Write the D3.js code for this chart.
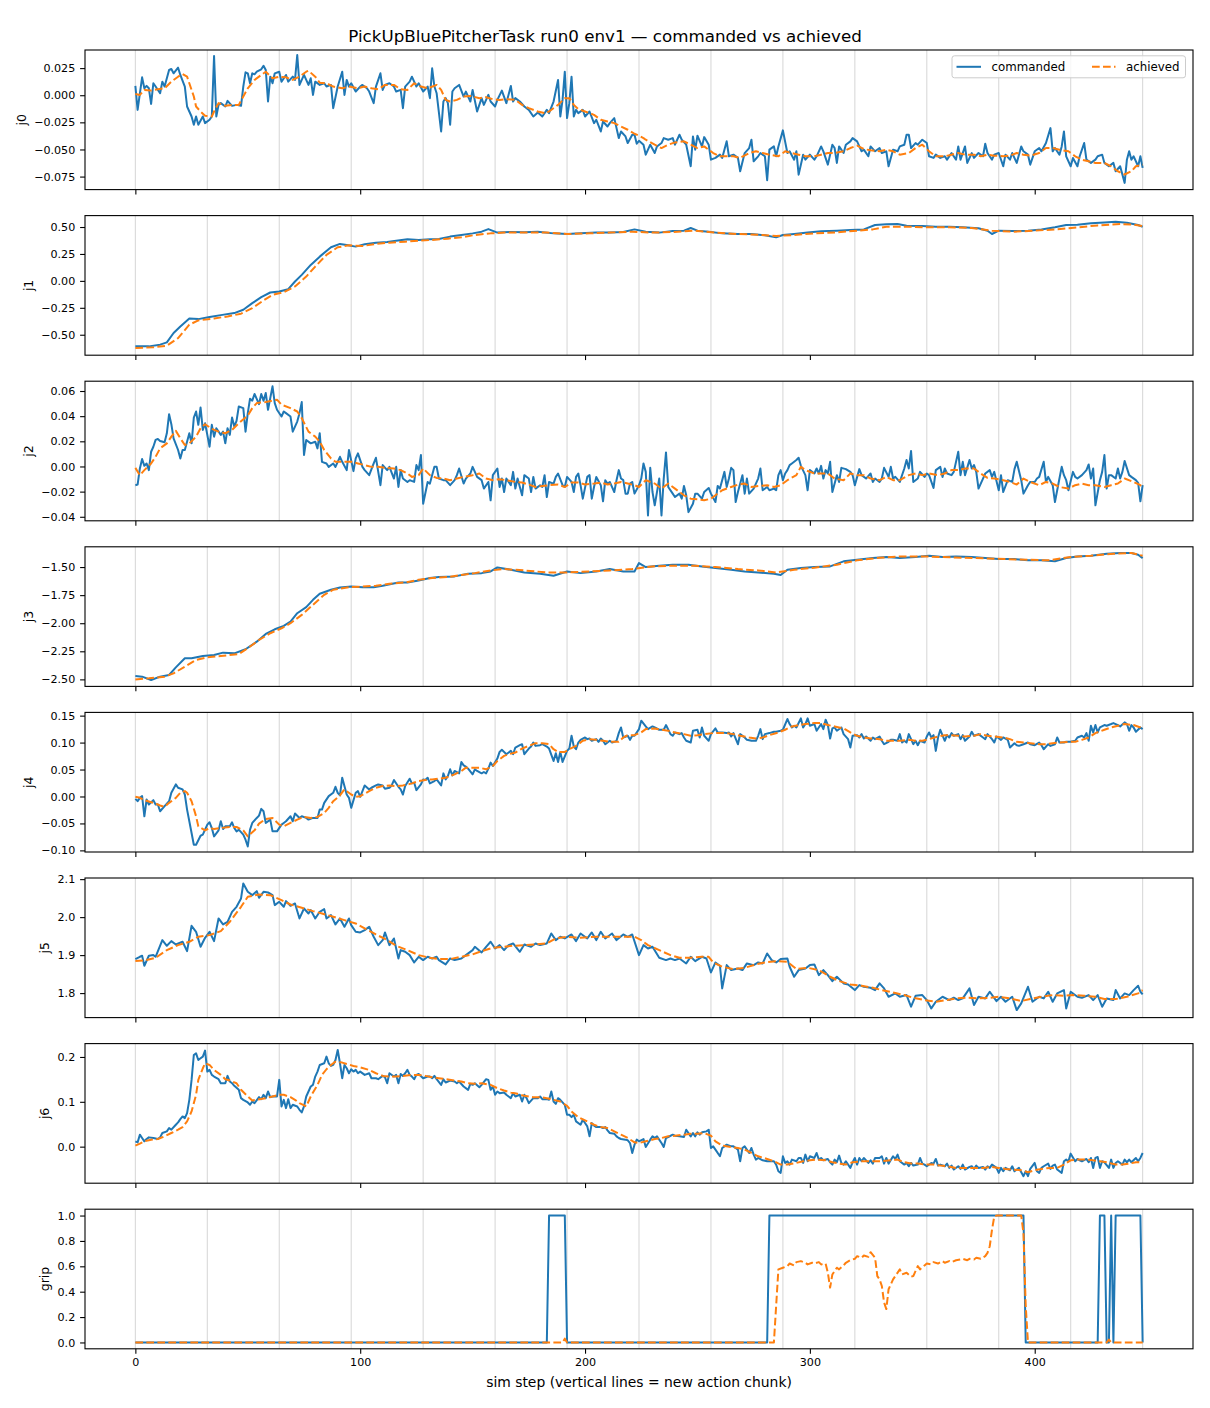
<!DOCTYPE html>
<html><head><meta charset="utf-8">
<script src="https://cdn.jsdelivr.net/npm/d3@7"></script>
<style>body{margin:0;background:#fff}svg{display:block}text{font-family:"DejaVu Sans",sans-serif}</style>
</head><body><svg id="c" width="1210" height="1408"></svg>
<script>
// ---------------- DATA ----------------
const chunkSteps = [0,32,64,96,128,160,192,224,256,288,320,352,384,416,448];
const xTicks = [0,100,200,300,400];
const seriesNames = ["commanded","achieved"];

const j0Cmd = [[0,0.0086],[1,-0.0135],[3,0.0165],[4,0.0064],[5,0.0086],[6,0.0064],[7,-0.008],[8,0.011],[9,0.008],[11,0.0018],[12,0.0125],[13,0.008],[15,0.0233],[16,0.0242],[17,0.0202],[19,0.0254],[20,0.0187],[22,0.008],[23,-0.0104],[25,-0.0196],[26,-0.0272],[27,-0.0196],[28,-0.0272],[30,-0.0196],[31,-0.0257],[33,-0.0226],[34,-0.0196],[35,0.0361],[36,-0.0196],[37,-0.0089],[38,-0.0073],[40,-0.0104],[41,-0.0052],[43,-0.0098],[45,-0.0089],[47,-0.0098],[48,0.008],[49,0.0211],[50,0.0202],[51,0.011],[52,0.0202],[53,0.0193],[54,0.0217],[56,0.0239],[57,0.0272],[58,0.0233],[59,-0.0058],[60,0.0171],[61,0.011],[62,0.0202],[64,0.0217],[65,0.0125],[67,0.0187],[68,0.0125],[70,0.0171],[71,0.0141],[72,0.037],[73,0.0095],[75,0.0187],[77,0.0095],[78,0.0156],[79,0.0003],[80,0.0125],[82,0.0095],[84,0.011],[85,0.008],[87,0.0095],[88,-0.0119],[90,0.008],[92,0.0217],[93,0.0003],[94,0.0141],[95,0.008],[96,0.011],[98,0.0034],[100,0.008],[101,0.0095],[103,0.0064],[104,0.0034],[106,-0.0073],[107,0.008],[109,0.0202],[110,0.0049],[111,0.0095],[113,0.011],[115,0.008],[116,0.0034],[118,0.0049],[119,-0.0119],[120,0.008],[122,0.0125],[123,0.0171],[125,0.008],[126,0.011],[128,0.0034],[130,0.008],[131,-0.0027],[132,0.0248],[133,0.008],[134,0.0018],[136,-0.0334],[137,-0.0058],[138,-0.0027],[139,-0.0073],[140,-0.0272],[141,0.0034],[142,0.0064],[144,0.0095],[146,-0.0012],[147,0.0034],[149,-0.0058],[150,0.0049],[152,-0.015],[154,-0.0027],[155,-0.0089],[157,0.0003],[158,-0.0058],[160,-0.0104],[161,-0.0043],[163,0.0043],[165,-0.0073],[167,0.0086],[168,-0.0058],[169,-0.0027],[171,-0.0058],[173,-0.0104],[175,-0.0135],[177,-0.0196],[179,-0.0159],[181,-0.0196],[183,-0.0135],[184,-0.0165],[186,-0.0058],[188,0.0141],[189,-0.0196],[190,-0.0043],[191,0.0217],[192,-0.0211],[193,-0.0073],[194,0.0171],[195,-0.0196],[196,-0.0135],[197,-0.0165],[199,-0.0135],[200,-0.0196],[202,-0.015],[204,-0.0257],[205,-0.0226],[207,-0.0334],[208,-0.0242],[210,-0.0288],[211,-0.0257],[213,-0.0211],[215,-0.0395],[216,-0.0334],[218,-0.038],[219,-0.0441],[221,-0.0364],[222,-0.0364],[223,-0.0447],[224,-0.042],[226,-0.0456],[227,-0.0548],[229,-0.0456],[231,-0.0533],[232,-0.0472],[234,-0.0441],[235,-0.0395],[237,-0.041],[239,-0.0395],[240,-0.0456],[242,-0.0364],[243,-0.041],[245,-0.0456],[247,-0.0655],[248,-0.038],[249,-0.0502],[250,-0.0373],[252,-0.0472],[253,-0.0386],[255,-0.0456],[256,-0.0594],[258,-0.0578],[260,-0.0548],[261,-0.0578],[263,-0.0425],[264,-0.0563],[266,-0.0548],[268,-0.0578],[269,-0.0701],[271,-0.0533],[273,-0.0487],[274,-0.041],[275,-0.0609],[277,-0.0563],[278,-0.0533],[280,-0.0563],[281,-0.0784],[282,-0.0502],[284,-0.0472],[285,-0.0563],[286,-0.0472],[288,-0.0324],[290,-0.0533],[291,-0.0517],[293,-0.0594],[294,-0.0517],[295,-0.0732],[297,-0.0548],[298,-0.0594],[300,-0.0548],[302,-0.0594],[303,-0.0563],[305,-0.0472],[306,-0.0517],[308,-0.064],[310,-0.0456],[311,-0.0487],[312,-0.0624],[313,-0.0472],[315,-0.0533],[316,-0.0456],[318,-0.0425],[319,-0.0395],[321,-0.0425],[323,-0.0517],[324,-0.0502],[326,-0.0563],[327,-0.0472],[329,-0.0517],[331,-0.0487],[332,-0.0533],[334,-0.0517],[335,-0.0655],[337,-0.0502],[339,-0.0517],[340,-0.0472],[342,-0.0456],[343,-0.0364],[344,-0.0364],[345,-0.0487],[347,-0.0441],[348,-0.0456],[350,-0.041],[352,-0.0441],[353,-0.0563],[355,-0.0578],[356,-0.0548],[358,-0.0578],[360,-0.0563],[361,-0.0594],[363,-0.0533],[365,-0.0594],[366,-0.0472],[367,-0.0594],[369,-0.0472],[370,-0.0624],[372,-0.0533],[373,-0.0578],[375,-0.0533],[377,-0.0563],[378,-0.0447],[379,-0.0533],[381,-0.0594],[382,-0.0548],[384,-0.0533],[386,-0.0655],[387,-0.0548],[389,-0.0594],[390,-0.0533],[392,-0.0624],[394,-0.0472],[395,-0.0517],[397,-0.0548],[398,-0.064],[400,-0.0517],[402,-0.0487],[403,-0.0517],[405,-0.0441],[407,-0.0303],[408,-0.0517],[409,-0.0487],[411,-0.0548],[412,-0.0472],[413,-0.0334],[414,-0.0563],[416,-0.0655],[417,-0.0578],[419,-0.0655],[420,-0.0563],[422,-0.0441],[423,-0.0594],[425,-0.0624],[427,-0.0594],[428,-0.0563],[430,-0.0548],[431,-0.0624],[433,-0.0655],[435,-0.0624],[436,-0.0701],[438,-0.0655],[440,-0.0808],[441,-0.0594],[442,-0.0517],[443,-0.0594],[444,-0.0563],[446,-0.0655],[447,-0.0563],[448,-0.067]];
const j0Ach = [[0,0.0012],[2,0.0003],[4,0.0049],[7,0.0043],[10,0.0055],[13,0.0064],[16,0.0125],[19,0.0171],[21,0.0196],[23,0.0171],[24,0.011],[26,-0.0012],[27,-0.0104],[29,-0.015],[31,-0.019],[34,-0.0196],[35,-0.015],[37,-0.0073],[40,-0.0098],[43,-0.0089],[46,-0.0089],[48,-0.0012],[50,0.0064],[53,0.0141],[56,0.0187],[58,0.0217],[61,0.0156],[64,0.0171],[67,0.0165],[70,0.0141],[73,0.0171],[76,0.0217],[77,0.0226],[80,0.0171],[82,0.0116],[85,0.011],[88,0.008],[92,0.0064],[95,0.008],[99,0.0064],[102,0.008],[105,0.0064],[108,0.0055],[111,0.0095],[115,0.0095],[118,0.0055],[121,0.0049],[124,0.011],[127,0.008],[130,0.0064],[134,0.0095],[136,0.0049],[138,-0.0043],[140,-0.0058],[143,-0.0043],[146,-0.0012],[149,-0.0006],[153,-0.0027],[156,-0.0018],[159,-0.0037],[162,-0.0043],[165,-0.0037],[169,-0.0043],[172,-0.0089],[175,-0.0119],[179,-0.015],[182,-0.0165],[184,-0.015],[188,-0.0089],[191,-0.0027],[193,-0.0027],[195,-0.0089],[197,-0.0128],[200,-0.015],[204,-0.0181],[207,-0.0226],[210,-0.0242],[213,-0.0257],[216,-0.0288],[219,-0.0318],[222,-0.0355],[224,-0.0373],[226,-0.0395],[227,-0.041],[231,-0.0456],[234,-0.0487],[237,-0.0456],[240,-0.0435],[244,-0.0425],[247,-0.0456],[250,-0.0487],[253,-0.0472],[257,-0.0533],[260,-0.0563],[263,-0.0563],[266,-0.0563],[269,-0.0578],[273,-0.0533],[276,-0.0517],[279,-0.0533],[282,-0.0548],[286,-0.0563],[289,-0.0517],[292,-0.0533],[295,-0.0548],[298,-0.0563],[302,-0.0563],[305,-0.0548],[308,-0.0533],[311,-0.0533],[315,-0.0517],[318,-0.0487],[321,-0.0465],[324,-0.0496],[327,-0.0508],[331,-0.0517],[334,-0.0502],[337,-0.0517],[340,-0.0548],[344,-0.0533],[347,-0.0487],[350,-0.0456],[353,-0.0517],[356,-0.0563],[360,-0.0563],[363,-0.0548],[366,-0.0533],[369,-0.0548],[373,-0.0548],[376,-0.0563],[379,-0.0548],[382,-0.0557],[386,-0.0563],[389,-0.0557],[392,-0.0533],[395,-0.0548],[398,-0.0557],[402,-0.0533],[405,-0.0487],[408,-0.0487],[411,-0.0502],[415,-0.0517],[418,-0.0563],[421,-0.0594],[424,-0.0609],[427,-0.0624],[431,-0.0624],[434,-0.0655],[437,-0.0701],[440,-0.0731],[443,-0.0701],[445,-0.0655],[448,-0.064]];

const j1Cmd = [[0,-0.608],[6,-0.608],[11,-0.592],[14,-0.571],[17,-0.484],[20,-0.423],[24,-0.349],[28,-0.355],[33,-0.336],[38,-0.318],[44,-0.299],[48,-0.268],[52,-0.207],[56,-0.151],[60,-0.108],[64,-0.099],[68,-0.077],[71,-0.006],[74,0.056],[78,0.148],[82,0.225],[87,0.312],[91,0.343],[94,0.333],[98,0.318],[102,0.34],[107,0.355],[112,0.361],[116,0.373],[121,0.386],[126,0.38],[131,0.386],[135,0.389],[140,0.411],[145,0.426],[150,0.441],[154,0.457],[157,0.481],[161,0.448],[167,0.454],[173,0.451],[179,0.457],[186,0.441],[192,0.435],[198,0.441],[205,0.448],[211,0.448],[217,0.454],[222,0.478],[227,0.457],[233,0.448],[239,0.463],[244,0.466],[247,0.491],[250,0.466],[255,0.457],[261,0.441],[268,0.435],[274,0.435],[280,0.423],[285,0.404],[288,0.426],[293,0.435],[299,0.448],[305,0.46],[312,0.466],[318,0.472],[324,0.478],[329,0.519],[334,0.525],[339,0.528],[343,0.512],[350,0.509],[356,0.503],[362,0.503],[368,0.497],[375,0.488],[379,0.466],[381,0.435],[384,0.466],[390,0.463],[397,0.466],[403,0.478],[409,0.497],[414,0.519],[419,0.522],[425,0.534],[431,0.543],[436,0.549],[441,0.54],[446,0.519],[448,0.503]];
const j1Ach = [[0,-0.623],[8,-0.617],[14,-0.602],[19,-0.531],[24,-0.407],[28,-0.367],[35,-0.349],[41,-0.33],[47,-0.305],[52,-0.253],[57,-0.182],[61,-0.13],[66,-0.105],[71,-0.052],[76,0.04],[80,0.133],[85,0.241],[90,0.312],[95,0.33],[101,0.324],[107,0.343],[113,0.355],[120,0.364],[126,0.373],[132,0.38],[139,0.392],[145,0.404],[151,0.426],[158,0.441],[164,0.448],[173,0.448],[183,0.448],[192,0.435],[202,0.441],[211,0.448],[221,0.457],[230,0.448],[239,0.454],[249,0.466],[258,0.448],[268,0.435],[277,0.429],[285,0.417],[293,0.426],[302,0.441],[312,0.451],[321,0.466],[328,0.478],[334,0.503],[343,0.503],[353,0.497],[362,0.497],[372,0.491],[381,0.466],[391,0.457],[400,0.466],[409,0.478],[419,0.497],[428,0.515],[438,0.528],[444,0.522],[448,0.509]];

const j2Cmd = [[0,-0.0149],[1,-0.0144],[2,-0.0016],[3,0.0059],[4,0.0005],[5,0.0024],[6,-0.0029],[7,0.0117],[8,0.0157],[9,0.0211],[10,0.0219],[11,0.0203],[13,0.0192],[14,0.0264],[15,0.0416],[16,0.0336],[17,0.0224],[19,0.0131],[20,0.0064],[21,0.0131],[22,0.0131],[24,0.0264],[25,0.0184],[26,0.0389],[27,0.0437],[28,0.0331],[29,0.0469],[30,0.0291],[31,0.0344],[32,0.0251],[33,0.0157],[34,0.0331],[35,0.0237],[36,0.0304],[38,0.0251],[39,0.0277],[40,0.0184],[41,0.0304],[42,0.0251],[43,0.0389],[44,0.0317],[45,0.0363],[46,0.0477],[48,0.0464],[49,0.0277],[50,0.0424],[51,0.0539],[52,0.0523],[53,0.0576],[55,0.0496],[56,0.0576],[57,0.0523],[58,0.0584],[59,0.0451],[61,0.0637],[62,0.0504],[63,0.0451],[65,0.0397],[66,0.0437],[67,0.0424],[69,0.0397],[70,0.0277],[72,0.0357],[73,0.0424],[74,0.0512],[75,0.0091],[76,0.0211],[78,0.0184],[80,0.0197],[81,0.0144],[82,0.0264],[83,0.0037],[85,0.0024],[86,-0.0003],[88,0.0024],[89,-0.0003],[91,0.0077],[92,0.0037],[94,-0.0029],[95,0.0131],[97,-0.0037],[98,0.0064],[99,0.0104],[101,-0.0003],[102,-0.0029],[104,-0.0069],[106,0.0024],[107,0.0069],[109,-0.0149],[110,0.0011],[112,-0.0029],[113,-0.0003],[115,-0.0096],[116,-0.0003],[117,-0.0163],[118,-0.0029],[119,-0.0096],[121,-0.0123],[122,-0.0109],[124,-0.0123],[125,0.0011],[126,-0.0029],[127,0.0091],[128,-0.0296],[130,-0.0123],[131,-0.0136],[133,-0.0003],[134,-0.0003],[135,-0.0096],[137,-0.0109],[138,-0.0109],[140,-0.0149],[142,-0.0109],[143,-0.0069],[144,-0.0016],[146,-0.0136],[147,-0.0096],[149,-0.0056],[150,-0.0003],[152,-0.0083],[154,-0.0109],[155,-0.0176],[157,-0.0123],[158,-0.0269],[159,-0.0069],[161,-0.0016],[162,-0.0163],[163,-0.0096],[164,-0.0203],[165,-0.0096],[167,-0.0149],[168,-0.0043],[169,-0.0176],[170,-0.0096],[172,-0.0229],[173,-0.0069],[175,-0.0096],[176,-0.0203],[177,-0.0083],[178,-0.0176],[180,-0.0149],[181,-0.0163],[182,-0.0069],[183,-0.0243],[184,-0.0123],[186,-0.0136],[187,-0.0083],[188,-0.0056],[190,-0.0149],[191,-0.0163],[192,-0.0083],[194,-0.0123],[195,-0.0203],[196,-0.0083],[197,-0.0056],[198,-0.0149],[199,-0.0256],[201,-0.0083],[202,-0.0069],[203,-0.0256],[204,-0.0163],[205,-0.0083],[207,-0.0149],[208,-0.0277],[209,-0.0109],[210,-0.0136],[211,-0.0123],[213,-0.0203],[214,-0.0109],[215,-0.0029],[216,-0.0096],[217,-0.0109],[218,-0.0216],[219,-0.0216],[220,-0.0136],[221,-0.0123],[222,-0.0216],[224,-0.0149],[225,-0.0096],[226,0.0024],[227,-0.0043],[228,-0.0389],[229,-0.0011],[230,-0.0203],[231,-0.0309],[233,-0.0096],[234,-0.0389],[235,-0.0096],[236,0.0112],[237,-0.0163],[239,-0.0216],[240,-0.0243],[242,-0.0216],[243,-0.0256],[244,-0.0155],[245,-0.0229],[246,-0.0363],[248,-0.0296],[249,-0.0216],[250,-0.0216],[252,-0.0256],[253,-0.0203],[255,-0.0171],[256,-0.0216],[258,-0.0283],[259,-0.0155],[260,-0.0176],[262,-0.0043],[263,-0.0163],[264,-0.0096],[265,-0.0011],[266,-0.0029],[267,-0.0283],[268,-0.0203],[270,-0.0069],[271,-0.0216],[272,-0.0096],[273,-0.0216],[275,-0.0176],[277,-0.0096],[278,-0.0016],[279,-0.0189],[281,-0.0163],[282,-0.0189],[284,-0.0176],[285,-0.0189],[286,-0.0069],[287,-0.0029],[288,-0.0109],[289,-0.0056],[290,-0.0029],[291,0.0011],[292,0.0024],[294,0.0051],[295,0.0069],[296,0.0005],[298,-0.0069],[299,-0.0189],[300,-0.0029],[302,-0.0056],[303,-0.0016],[304,-0.0056],[305,0.0005],[306,-0.0096],[307,-0.0029],[308,-0.0056],[309,0.0037],[310,-0.0203],[312,-0.0069],[313,-0.0123],[314,-0.0011],[316,-0.0021],[318,-0.0043],[319,-0.0069],[320,-0.0149],[322,-0.0021],[323,-0.0069],[325,-0.0096],[327,-0.0056],[328,-0.0123],[329,-0.0096],[331,-0.0123],[332,-0.0096],[333,-0.0011],[335,-0.0083],[336,-0.0003],[337,-0.0096],[338,-0.0083],[340,-0.0123],[342,-0.0016],[343,0.0051],[344,-0.0016],[345,0.0123],[346,-0.0123],[348,-0.0096],[349,-0.0043],[351,-0.0083],[352,-0.0056],[353,-0.0069],[355,-0.0171],[356,-0.0029],[358,-0.0003],[359,-0.0083],[360,-0.0016],[361,-0.0056],[363,-0.0069],[364,-0.0043],[366,0.0117],[367,-0.0069],[368,0.0037],[369,-0.0069],[371,0.0051],[372,-0.0016],[373,0.0011],[374,-0.0043],[375,-0.0176],[377,-0.0096],[378,-0.0056],[380,-0.0029],[381,-0.0083],[382,-0.0043],[384,-0.0189],[385,-0.0069],[386,-0.0203],[388,-0.0109],[390,-0.0123],[391,-0.0021],[392,0.0037],[394,-0.0109],[395,-0.0216],[397,-0.0149],[398,-0.0123],[400,-0.0123],[401,-0.0096],[402,-0.0083],[404,0.0037],[405,-0.0123],[406,-0.0083],[408,-0.0149],[409,-0.0283],[411,-0.0096],[412,-0.0003],[413,-0.0069],[414,-0.0109],[415,-0.0189],[417,-0.0043],[418,-0.0083],[419,-0.0096],[421,-0.0069],[423,-0.0029],[424,0.0016],[425,-0.0096],[426,-0.0016],[427,-0.0309],[429,-0.0109],[430,-0.0043],[431,0.0091],[432,-0.0176],[433,-0.0069],[434,-0.0069],[436,-0.0096],[437,-0.0016],[438,-0.0096],[439,-0.0043],[440,0.0043],[442,-0.0069],[443,-0.0083],[445,-0.0109],[446,-0.013],[447,-0.0277],[448,-0.0149]];
const j2Ach = [[0,-0.0011],[2,-0.0069],[4,-0.0029],[7,0.0024],[9,0.0077],[11,0.0144],[14,0.0184],[16,0.0237],[18,0.0283],[20,0.0224],[22,0.0171],[24,0.0184],[27,0.0237],[29,0.0304],[31,0.0336],[34,0.0299],[37,0.0277],[40,0.0264],[43,0.0291],[46,0.0344],[50,0.0405],[52,0.0464],[54,0.0504],[58,0.0512],[61,0.0523],[63,0.0531],[65,0.0491],[69,0.0464],[72,0.0437],[74,0.0384],[77,0.0277],[80,0.0237],[82,0.0197],[84,0.0131],[87,0.0064],[89,0.0037],[92,0.0037],[96,0.0037],[99,0.0024],[102,0.0011],[105,-0.0003],[108,-0.0003],[111,-0.0011],[115,-0.0016],[118,-0.0029],[121,-0.0056],[123,-0.0083],[126,-0.0069],[128,-0.0016],[131,-0.0069],[134,-0.0091],[137,-0.0096],[140,-0.0109],[143,-0.0096],[146,-0.0083],[150,-0.0069],[153,-0.0056],[156,-0.0096],[159,-0.0109],[162,-0.0101],[165,-0.0109],[169,-0.0123],[172,-0.0128],[175,-0.0144],[178,-0.0163],[181,-0.0155],[184,-0.0149],[188,-0.0144],[191,-0.0163],[194,-0.0128],[197,-0.0128],[200,-0.0144],[204,-0.0136],[207,-0.0128],[210,-0.0144],[213,-0.0136],[216,-0.0123],[219,-0.0136],[222,-0.0149],[224,-0.0163],[227,-0.0109],[231,-0.0136],[234,-0.0176],[237,-0.0136],[240,-0.0176],[244,-0.0229],[247,-0.0256],[250,-0.0261],[253,-0.0269],[256,-0.0256],[258,-0.0229],[261,-0.0189],[265,-0.0163],[268,-0.0144],[271,-0.0136],[274,-0.0163],[277,-0.0155],[281,-0.0149],[284,-0.0163],[287,-0.0149],[290,-0.0109],[294,-0.0069],[296,-0.0003],[298,-0.0029],[302,-0.0056],[305,-0.0056],[308,-0.0056],[311,-0.0096],[315,-0.0109],[318,-0.0056],[321,-0.0069],[324,-0.0069],[327,-0.0096],[331,-0.0109],[334,-0.0083],[337,-0.0109],[340,-0.0109],[344,-0.0069],[347,-0.0056],[350,-0.0069],[353,-0.0056],[357,-0.0069],[360,-0.0056],[363,-0.0029],[366,-0.0029],[369,-0.0016],[373,-0.0016],[376,-0.0056],[379,-0.0091],[382,-0.0096],[386,-0.0109],[389,-0.0123],[392,-0.0144],[395,-0.0096],[398,-0.0123],[402,-0.0149],[405,-0.0123],[408,-0.0136],[411,-0.0163],[415,-0.0176],[418,-0.0149],[421,-0.0136],[424,-0.0149],[427,-0.0149],[431,-0.0163],[434,-0.0149],[437,-0.0136],[440,-0.0096],[444,-0.0123],[447,-0.0149],[448,-0.0163]];

const j3Cmd = [[0,-2.47],[3,-2.476],[7,-2.506],[11,-2.476],[15,-2.461],[18,-2.393],[22,-2.312],[25,-2.312],[30,-2.292],[35,-2.283],[39,-2.262],[44,-2.268],[49,-2.232],[54,-2.164],[58,-2.095],[62,-2.054],[66,-2.024],[69,-1.985],[72,-1.911],[76,-1.857],[79,-1.792],[82,-1.738],[87,-1.702],[91,-1.682],[96,-1.673],[101,-1.679],[106,-1.679],[110,-1.667],[117,-1.637],[121,-1.637],[126,-1.619],[131,-1.598],[135,-1.589],[142,-1.583],[148,-1.56],[154,-1.554],[158,-1.539],[161,-1.503],[167,-1.524],[173,-1.548],[180,-1.56],[186,-1.577],[192,-1.539],[198,-1.554],[205,-1.539],[211,-1.518],[217,-1.539],[222,-1.539],[224,-1.464],[227,-1.5],[233,-1.488],[239,-1.479],[246,-1.479],[252,-1.494],[258,-1.509],[265,-1.524],[271,-1.539],[277,-1.548],[284,-1.56],[287,-1.571],[290,-1.524],[296,-1.509],[302,-1.5],[309,-1.494],[315,-1.449],[321,-1.435],[328,-1.42],[334,-1.411],[340,-1.42],[347,-1.411],[353,-1.399],[359,-1.411],[365,-1.405],[372,-1.411],[378,-1.42],[384,-1.429],[391,-1.429],[397,-1.44],[403,-1.44],[409,-1.449],[414,-1.42],[419,-1.405],[425,-1.399],[432,-1.381],[438,-1.375],[443,-1.375],[446,-1.39],[448,-1.42]];
const j3Ach = [[0,-2.5],[6,-2.491],[13,-2.476],[17,-2.446],[22,-2.387],[27,-2.327],[32,-2.304],[38,-2.292],[46,-2.274],[50,-2.223],[55,-2.149],[60,-2.089],[65,-2.045],[69,-2.0],[74,-1.926],[79,-1.836],[84,-1.747],[88,-1.702],[95,-1.679],[101,-1.673],[107,-1.667],[113,-1.649],[120,-1.637],[126,-1.613],[132,-1.598],[139,-1.589],[145,-1.571],[151,-1.554],[158,-1.53],[164,-1.518],[173,-1.53],[183,-1.548],[192,-1.548],[202,-1.539],[211,-1.53],[221,-1.518],[230,-1.494],[239,-1.488],[249,-1.488],[258,-1.5],[268,-1.518],[277,-1.53],[285,-1.548],[293,-1.524],[302,-1.506],[312,-1.479],[321,-1.44],[331,-1.417],[340,-1.405],[350,-1.405],[359,-1.411],[369,-1.417],[378,-1.423],[387,-1.429],[397,-1.435],[406,-1.44],[416,-1.411],[425,-1.399],[435,-1.381],[443,-1.375],[448,-1.399]];

const j4Cmd = [[0,-0.0044],[1,-0.0087],[2,-0.0025],[3,0.0006],[4,-0.0367],[5,-0.0056],[6,-0.0149],[8,-0.0068],[9,-0.0149],[10,-0.0149],[11,-0.0274],[13,-0.018],[15,-0.0087],[16,0.0068],[18,0.0224],[19,0.0162],[21,0.0131],[22,0.0037],[23,-0.0243],[25,-0.0678],[26,-0.0896],[27,-0.0896],[29,-0.0728],[30,-0.0709],[32,-0.0522],[33,-0.0479],[34,-0.0585],[35,-0.074],[37,-0.0628],[38,-0.046],[39,-0.0603],[40,-0.0554],[42,-0.0554],[43,-0.0479],[44,-0.0585],[45,-0.0647],[46,-0.0616],[48,-0.0709],[49,-0.0802],[50,-0.0927],[51,-0.0616],[52,-0.0491],[54,-0.0398],[55,-0.0355],[56,-0.023],[57,-0.0274],[58,-0.0491],[60,-0.0429],[61,-0.0647],[63,-0.0647],[65,-0.0522],[66,-0.0491],[67,-0.046],[69,-0.0367],[70,-0.046],[71,-0.0317],[73,-0.0398],[74,-0.0367],[76,-0.0398],[77,-0.0429],[79,-0.0398],[81,-0.0398],[82,-0.0243],[83,-0.0243],[84,-0.0118],[86,0.0006],[88,0.0068],[89,0.018],[90,0.0068],[91,0.0019],[92,0.0348],[94,0.0037],[95,-0.0025],[96,-0.0211],[98,0.0068],[99,0.01],[100,-0.0006],[101,0.01],[102,0.0205],[104,0.0131],[105,0.0162],[107,0.0205],[108,0.0224],[110,0.0205],[111,0.0143],[113,0.0162],[114,0.0205],[115,0.0305],[117,0.018],[118,0.0131],[119,0.0037],[120,0.0193],[122,0.033],[123,0.0243],[124,0.0255],[125,0.0118],[127,0.0224],[128,0.0317],[129,0.0305],[130,0.0348],[131,0.0243],[133,0.0286],[134,0.0317],[136,0.0205],[137,0.0429],[138,0.0317],[139,0.0379],[140,0.0504],[141,0.0392],[142,0.0473],[144,0.0429],[145,0.0641],[146,0.0578],[147,0.0554],[148,0.0516],[150,0.0411],[151,0.0504],[152,0.0473],[154,0.0429],[155,0.0454],[156,0.0429],[157,0.0516],[158,0.0628],[159,0.0566],[161,0.0703],[162,0.0827],[163,0.0865],[164,0.0827],[165,0.0784],[167,0.0846],[168,0.0784],[169,0.0908],[171,0.0952],[172,0.097],[173,0.0784],[175,0.0889],[176,0.0927],[177,0.1001],[178,0.0939],[180,0.0952],[181,0.097],[183,0.0927],[184,0.0889],[186,0.0659],[187,0.0802],[188,0.0641],[189,0.0827],[190,0.0641],[192,0.0846],[193,0.0889],[194,0.1126],[195,0.0927],[196,0.0877],[197,0.1001],[198,0.1051],[200,0.1095],[201,0.1064],[202,0.1076],[203,0.1033],[205,0.1064],[206,0.1014],[207,0.1076],[208,0.1033],[209,0.097],[211,0.1033],[212,0.1001],[213,0.1014],[214,0.1033],[215,0.1176],[216,0.1281],[217,0.1095],[219,0.1126],[220,0.1051],[221,0.1126],[222,0.1126],[224,0.125],[225,0.1406],[227,0.13],[228,0.125],[230,0.13],[231,0.1281],[233,0.1238],[235,0.1238],[236,0.1325],[238,0.1157],[239,0.1126],[240,0.1188],[242,0.1157],[243,0.1176],[244,0.1095],[245,0.1033],[247,0.1001],[248,0.1219],[250,0.1238],[251,0.1095],[252,0.1281],[253,0.1126],[255,0.1033],[256,0.1157],[258,0.1263],[259,0.1188],[261,0.1188],[263,0.1176],[264,0.1188],[265,0.1113],[266,0.1176],[268,0.097],[269,0.1157],[271,0.1095],[272,0.1051],[274,0.1033],[276,0.1033],[277,0.1126],[278,0.125],[279,0.1064],[280,0.1157],[282,0.1176],[284,0.12],[285,0.12],[287,0.1219],[288,0.1238],[290,0.1437],[291,0.1344],[292,0.1281],[293,0.1312],[294,0.1281],[296,0.1449],[297,0.1281],[298,0.1344],[299,0.1449],[300,0.1312],[302,0.1344],[303,0.1219],[305,0.1344],[306,0.125],[307,0.1424],[308,0.1325],[309,0.1076],[310,0.1263],[311,0.1281],[312,0.1219],[314,0.1281],[315,0.1157],[317,0.1064],[318,0.0908],[319,0.1126],[321,0.1138],[322,0.1095],[323,0.1157],[324,0.1076],[325,0.1113],[327,0.1033],[328,0.1095],[329,0.1064],[331,0.1113],[332,0.1033],[333,0.097],[335,0.1014],[336,0.1051],[337,0.1051],[339,0.1033],[340,0.1157],[341,0.1001],[342,0.1033],[343,0.1001],[344,0.1157],[346,0.097],[347,0.1033],[348,0.0952],[349,0.1033],[351,0.1001],[352,0.1113],[353,0.1188],[354,0.1095],[355,0.1138],[356,0.0846],[357,0.1095],[358,0.1238],[360,0.1033],[361,0.1138],[362,0.1095],[363,0.1176],[364,0.1126],[366,0.1157],[367,0.1064],[368,0.1138],[369,0.1033],[371,0.1113],[372,0.12],[373,0.1126],[375,0.1157],[377,0.1095],[378,0.1064],[379,0.1157],[381,0.1064],[382,0.1001],[383,0.1113],[385,0.1051],[386,0.1095],[388,0.1051],[389,0.0908],[391,0.0989],[392,0.0952],[393,0.0939],[395,0.097],[397,0.1001],[398,0.097],[400,0.0952],[402,0.1001],[403,0.0952],[404,0.0877],[406,0.097],[407,0.0939],[409,0.097],[410,0.1095],[411,0.1001],[413,0.1001],[414,0.1014],[416,0.1014],[418,0.1033],[419,0.1095],[421,0.1126],[422,0.1095],[423,0.1176],[424,0.1033],[425,0.1312],[426,0.1188],[427,0.1325],[428,0.1188],[429,0.1281],[431,0.1325],[432,0.1312],[434,0.1344],[435,0.1362],[437,0.1325],[438,0.13],[440,0.1375],[441,0.1344],[442,0.1219],[443,0.1325],[444,0.1281],[445,0.12],[447,0.1281],[448,0.125]];
const j4Ach = [[0,-0.0006],[2,-0.0025],[4,-0.0068],[7,-0.0106],[9,-0.0131],[11,-0.0168],[13,-0.0193],[15,-0.0118],[18,-0.0025],[20,0.0068],[22,0.01],[23,0.0068],[25,-0.0087],[27,-0.0367],[28,-0.0554],[31,-0.0628],[33,-0.0585],[35,-0.0603],[38,-0.0585],[42,-0.0566],[45,-0.0566],[48,-0.0628],[50,-0.074],[53,-0.0628],[55,-0.0504],[58,-0.0417],[61,-0.0398],[64,-0.0522],[66,-0.0554],[69,-0.0491],[72,-0.0429],[75,-0.0379],[78,-0.0398],[81,-0.0379],[84,-0.0305],[86,-0.0211],[88,-0.0087],[91,0.0019],[93,0.0131],[96,0.0037],[98,-0.0006],[100,0.0006],[104,0.01],[107,0.0162],[110,0.0193],[113,0.0205],[116,0.0193],[119,0.0205],[123,0.0243],[126,0.0286],[129,0.0305],[132,0.0317],[135,0.033],[138,0.0348],[142,0.0411],[145,0.0473],[147,0.0535],[150,0.0535],[153,0.0535],[156,0.0504],[159,0.0566],[161,0.0659],[164,0.0753],[166,0.0784],[169,0.0815],[172,0.0889],[175,0.0939],[178,0.0989],[181,0.0989],[184,0.097],[186,0.0877],[188,0.0827],[191,0.0827],[193,0.0877],[196,0.0939],[199,0.1033],[202,0.1064],[205,0.1051],[208,0.1033],[211,0.1014],[215,0.1014],[217,0.1095],[219,0.1138],[222,0.1138],[225,0.1188],[227,0.125],[231,0.1263],[234,0.1238],[237,0.1219],[240,0.1188],[244,0.1157],[247,0.1126],[250,0.1138],[253,0.1157],[257,0.1176],[260,0.1176],[263,0.1176],[266,0.1157],[269,0.1126],[273,0.1095],[276,0.1076],[279,0.1095],[282,0.1138],[286,0.1188],[289,0.1238],[292,0.13],[295,0.1325],[298,0.1344],[302,0.1362],[305,0.1362],[308,0.1325],[311,0.13],[315,0.1263],[318,0.1188],[321,0.1126],[324,0.1095],[327,0.1076],[331,0.1064],[334,0.1033],[337,0.1033],[340,0.1033],[344,0.1051],[347,0.1033],[350,0.1033],[353,0.1064],[357,0.1113],[360,0.1138],[363,0.1138],[366,0.1126],[369,0.1113],[373,0.1126],[376,0.1157],[379,0.1126],[382,0.1113],[386,0.1095],[389,0.1064],[392,0.1014],[395,0.1001],[398,0.0989],[402,0.097],[405,0.097],[408,0.0989],[411,0.1001],[415,0.1014],[418,0.1014],[421,0.1051],[424,0.1095],[427,0.1176],[431,0.1238],[434,0.1281],[437,0.1312],[440,0.1344],[444,0.1325],[447,0.1281],[448,0.125]];

const j5Cmd = [[0,1.8895],[2,1.8956],[3,1.8983],[4,1.872],[6,1.8983],[8,1.9],[9,1.8956],[12,1.9395],[14,1.9246],[16,1.9369],[18,1.9281],[21,1.9351],[23,1.9105],[25,1.9772],[27,1.9614],[29,1.9219],[31,1.9456],[33,1.9614],[35,1.9369],[37,1.9965],[39,1.9807],[41,1.9877],[43,2.014],[45,2.0272],[47,2.0491],[48,2.0886],[50,2.0667],[52,2.0579],[54,2.0684],[55,2.0509],[57,2.0667],[59,2.0649],[61,2.0579],[62,2.0316],[64,2.0403],[66,2.0272],[67,2.0421],[69,2.0298],[71,2.036],[73,1.9965],[75,2.0228],[77,2.0096],[78,2.0184],[80,1.9965],[82,2.014],[84,2.021],[85,1.9965],[87,2.0053],[89,1.9807],[91,1.9965],[93,1.9746],[95,1.9965],[96,1.979],[98,1.9614],[100,1.9597],[102,1.9658],[104,1.9746],[106,1.9483],[108,1.9263],[110,1.9395],[111,1.9597],[113,1.9263],[115,1.9439],[117,1.8912],[118,1.9132],[120,1.9088],[122,1.9],[124,1.8807],[126,1.8956],[128,1.8869],[130,1.8956],[132,1.8912],[134,1.8956],[135,1.8869],[138,1.8755],[140,1.8912],[142,1.8869],[145,1.8912],[147,1.9],[150,1.9132],[151,1.9219],[154,1.907],[156,1.9219],[158,1.9351],[160,1.9175],[162,1.9263],[164,1.9132],[166,1.9263],[168,1.9307],[171,1.9088],[173,1.9281],[176,1.9219],[178,1.9307],[180,1.9263],[183,1.9307],[185,1.957],[187,1.9395],[189,1.9483],[191,1.9439],[194,1.9544],[196,1.9369],[198,1.957],[201,1.9439],[203,1.9597],[205,1.9395],[207,1.9614],[209,1.9439],[212,1.957],[214,1.9395],[217,1.9544],[219,1.9483],[221,1.9544],[224,1.9],[226,1.9263],[228,1.9175],[230,1.9219],[233,1.893],[236,1.8869],[238,1.8912],[240,1.8869],[242,1.8912],[245,1.8781],[247,1.8956],[249,1.8842],[252,1.8956],[254,1.8912],[256,1.8544],[258,1.8807],[260,1.872],[261,1.8123],[263,1.8737],[265,1.8606],[268,1.8649],[270,1.8606],[272,1.8781],[275,1.8737],[277,1.8807],[279,1.8781],[281,1.9044],[283,1.8869],[285,1.8807],[287,1.8895],[290,1.8912],[291,1.8693],[293,1.843],[295,1.8606],[298,1.8649],[300,1.8737],[302,1.8755],[304,1.8474],[306,1.8606],[308,1.8474],[310,1.8316],[312,1.843],[315,1.8255],[317,1.8228],[320,1.8079],[322,1.8211],[324,1.8167],[327,1.8141],[329,1.8079],[331,1.8255],[333,1.8123],[335,1.7904],[338,1.7992],[340,1.7904],[343,1.7948],[345,1.7641],[347,1.793],[350,1.7948],[352,1.7816],[354,1.7597],[356,1.7772],[359,1.7904],[362,1.7816],[364,1.7878],[366,1.7816],[368,1.786],[371,1.8123],[373,1.7685],[375,1.7904],[378,1.786],[380,1.8035],[383,1.779],[385,1.7904],[387,1.7772],[390,1.7904],[392,1.7553],[394,1.7729],[397,1.8167],[399,1.7772],[402,1.7904],[404,1.786],[406,1.8035],[408,1.7772],[410,1.7992],[413,1.8079],[414,1.7597],[416,1.8035],[419,1.7904],[421,1.7878],[424,1.7948],[426,1.7816],[428,1.7948],[430,1.7641],[432,1.786],[435,1.7816],[436,1.8079],[438,1.786],[440,1.7992],[442,1.7948],[444,1.8079],[446,1.8193],[447,1.8035],[448,1.7965]];
const j5Ach = [[0,1.8842],[5,1.8869],[9,1.893],[14,1.9132],[19,1.9263],[24,1.9351],[28,1.9483],[33,1.9526],[38,1.9632],[42,1.9877],[47,2.0272],[50,2.0535],[55,2.0596],[60,2.0579],[65,2.0447],[69,2.0333],[74,2.0246],[79,2.0158],[83,2.0096],[88,2.0009],[93,1.9921],[98,1.9833],[102,1.9702],[107,1.9544],[112,1.9395],[116,1.9246],[121,1.9132],[126,1.9],[131,1.893],[135,1.8895],[140,1.8895],[145,1.8956],[150,1.9018],[154,1.9105],[159,1.9193],[164,1.9219],[168,1.9246],[173,1.9263],[178,1.9281],[183,1.9307],[187,1.9439],[192,1.9483],[198,1.9456],[205,1.9483],[211,1.9483],[217,1.9483],[222,1.9483],[225,1.9395],[228,1.9263],[233,1.9132],[238,1.9],[242,1.893],[247,1.893],[252,1.8956],[255,1.8956],[257,1.8807],[261,1.8693],[266,1.8632],[271,1.8667],[276,1.8755],[280,1.8807],[285,1.8842],[290,1.8825],[294,1.8632],[299,1.8667],[304,1.8606],[309,1.843],[313,1.8316],[318,1.8228],[323,1.8193],[328,1.8141],[332,1.8079],[337,1.8018],[342,1.7948],[346,1.7878],[351,1.7816],[356,1.7772],[361,1.7816],[365,1.786],[370,1.7878],[375,1.786],[380,1.7878],[384,1.7904],[389,1.786],[394,1.779],[398,1.7843],[403,1.7904],[408,1.7948],[413,1.793],[417,1.7948],[422,1.793],[427,1.7904],[431,1.7843],[436,1.7843],[441,1.7904],[446,1.7992],[448,1.8079]];

const j6Cmd = [[0,0.0119],[1,0.0096],[2,0.0267],[3,0.0193],[4,0.0119],[5,0.017],[6,0.0207],[8,0.0193],[10,0.017],[11,0.0207],[12,0.0304],[14,0.0341],[15,0.0415],[16,0.0378],[18,0.0489],[19,0.0541],[20,0.0615],[21,0.0674],[22,0.0637],[23,0.0748],[24,0.1044],[25,0.1489],[26,0.2044],[27,0.2081],[28,0.1933],[29,0.197],[30,0.2007],[31,0.2141],[32,0.1674],[33,0.1711],[34,0.16],[35,0.1563],[37,0.1504],[38,0.1415],[40,0.1415],[41,0.1578],[42,0.1452],[43,0.1415],[44,0.1356],[46,0.1267],[47,0.1081],[48,0.1044],[50,0.0985],[51,0.0933],[52,0.1007],[53,0.097],[55,0.1104],[56,0.1059],[57,0.1156],[58,0.1081],[59,0.123],[60,0.1104],[61,0.1119],[63,0.1119],[64,0.1489],[65,0.0896],[66,0.1044],[67,0.0859],[68,0.1059],[69,0.0859],[70,0.0933],[72,0.0896],[73,0.0822],[74,0.0763],[75,0.0896],[76,0.1119],[78,0.1341],[79,0.1378],[80,0.1563],[81,0.1674],[82,0.1822],[84,0.1859],[85,0.2007],[86,0.1859],[87,0.18],[88,0.1822],[89,0.1933],[90,0.2156],[91,0.1859],[92,0.1526],[93,0.1822],[94,0.1748],[95,0.1637],[96,0.1726],[97,0.1674],[98,0.1711],[99,0.1637],[100,0.1674],[102,0.16],[104,0.1637],[105,0.1526],[107,0.1526],[108,0.1504],[110,0.1578],[111,0.1548],[112,0.1415],[113,0.1637],[115,0.1563],[116,0.16],[117,0.1415],[118,0.1622],[119,0.1578],[120,0.1637],[121,0.1711],[122,0.16],[123,0.1563],[124,0.1504],[125,0.16],[126,0.1622],[128,0.1526],[130,0.1563],[131,0.1563],[132,0.1526],[133,0.1578],[134,0.1504],[136,0.1378],[137,0.1504],[138,0.143],[140,0.1474],[142,0.1452],[143,0.1415],[144,0.1452],[146,0.1341],[148,0.1267],[149,0.14],[150,0.1378],[151,0.1415],[153,0.1326],[154,0.1378],[156,0.1504],[157,0.1489],[158,0.1267],[159,0.1341],[160,0.1156],[161,0.123],[162,0.1193],[164,0.1207],[165,0.1156],[166,0.1119],[167,0.1081],[168,0.1193],[169,0.1119],[171,0.1156],[172,0.1007],[173,0.1156],[174,0.1081],[175,0.097],[177,0.1081],[178,0.1081],[179,0.1081],[180,0.1119],[181,0.1059],[183,0.1059],[184,0.1044],[185,0.123],[186,0.1007],[187,0.0955],[188,0.1081],[189,0.1044],[191,0.0933],[192,0.0711],[193,0.0711],[194,0.0659],[195,0.0711],[196,0.0563],[198,0.0489],[199,0.06],[200,0.0526],[201,0.0452],[202,0.023],[203,0.0526],[204,0.0467],[205,0.0437],[207,0.0437],[208,0.0415],[209,0.0437],[210,0.0363],[211,0.0304],[213,0.0289],[214,0.023],[215,0.0193],[216,0.017],[218,0.0156],[219,0.0141],[220,0.0081],[221,-0.0141],[222,0.0044],[223,0.0156],[224,0.0119],[226,0.017],[227,-0.0007],[229,0.0156],[230,0.023],[231,0.0193],[232,0.023],[234,0.0081],[235,-0.0007],[236,0.0193],[237,0.0215],[239,0.0267],[240,0.0244],[242,0.023],[244,0.0215],[245,0.0378],[247,0.023],[248,0.0304],[249,0.023],[250,0.0319],[251,0.0267],[252,0.0319],[254,0.0341],[255,0.0378],[256,-0.003],[257,0.0007],[258,-0.0067],[260,-0.0215],[261,-0.003],[262,0.0007],[263,0.0044],[265,0.0007],[266,0.0007],[267,-0.003],[268,-0.0067],[269,-0.0326],[270,-0.003],[271,0.0007],[273,-0.0141],[274,-0.003],[275,-0.0178],[276,-0.0289],[277,-0.0252],[279,-0.0304],[281,-0.0326],[282,-0.0326],[284,-0.0326],[285,-0.04],[286,-0.0548],[287,-0.0585],[288,-0.0215],[289,-0.0363],[290,-0.0326],[291,-0.04],[292,-0.0289],[294,-0.0326],[295,-0.0252],[296,-0.0252],[297,-0.0363],[298,-0.0178],[299,-0.0326],[300,-0.0215],[302,-0.0252],[303,-0.0141],[304,-0.0289],[305,-0.0252],[306,-0.0304],[308,-0.0274],[309,-0.0348],[310,-0.04],[311,-0.0289],[312,-0.0348],[313,-0.02],[314,-0.0363],[315,-0.04],[316,-0.0326],[318,-0.0474],[319,-0.0348],[320,-0.0252],[321,-0.04],[322,-0.0252],[323,-0.0326],[324,-0.0252],[326,-0.0363],[327,-0.0304],[328,-0.0378],[329,-0.0252],[331,-0.0252],[332,-0.0215],[333,-0.0378],[334,-0.0252],[335,-0.0378],[337,-0.0215],[338,-0.0274],[339,-0.0178],[340,-0.0326],[342,-0.04],[343,-0.0363],[344,-0.0437],[345,-0.0363],[346,-0.0422],[348,-0.04],[349,-0.0252],[350,-0.0378],[351,-0.04],[352,-0.0437],[354,-0.0363],[355,-0.0378],[356,-0.0274],[357,-0.0422],[358,-0.04],[360,-0.0437],[361,-0.0378],[362,-0.0474],[363,-0.0422],[364,-0.0511],[366,-0.0437],[367,-0.0496],[368,-0.04],[369,-0.0511],[371,-0.0452],[372,-0.0437],[373,-0.0496],[374,-0.0422],[375,-0.0474],[377,-0.0452],[378,-0.0511],[379,-0.0437],[380,-0.0474],[381,-0.04],[383,-0.0474],[384,-0.0585],[385,-0.0474],[386,-0.0548],[387,-0.0474],[389,-0.0526],[390,-0.0437],[391,-0.0548],[392,-0.0511],[393,-0.0474],[395,-0.0659],[396,-0.0548],[397,-0.0659],[398,-0.0496],[400,-0.0363],[401,-0.0548],[402,-0.0585],[403,-0.0474],[404,-0.0437],[406,-0.0378],[407,-0.0496],[408,-0.0422],[409,-0.04],[410,-0.0511],[412,-0.0585],[413,-0.0326],[414,-0.0289],[415,-0.0326],[416,-0.0156],[418,-0.0326],[419,-0.0274],[420,-0.0304],[421,-0.0326],[423,-0.0274],[424,-0.0348],[425,-0.0252],[426,-0.0474],[427,-0.0252],[428,-0.023],[429,-0.0474],[430,-0.0326],[431,-0.0348],[433,-0.0474],[434,-0.0289],[435,-0.0474],[436,-0.0363],[437,-0.0326],[439,-0.04],[440,-0.0289],[441,-0.0348],[442,-0.0289],[443,-0.0348],[445,-0.0252],[446,-0.0326],[447,-0.0252],[448,-0.0141]];
const j6Ach = [[0,0.0022],[2,0.0067],[4,0.0119],[7,0.0156],[10,0.017],[13,0.023],[16,0.0304],[19,0.0378],[21,0.0437],[23,0.0563],[25,0.0785],[27,0.1156],[28,0.1489],[30,0.1748],[31,0.1859],[33,0.1822],[35,0.1711],[38,0.16],[40,0.1504],[42,0.1474],[45,0.1415],[47,0.1267],[50,0.1119],[52,0.103],[54,0.1044],[58,0.1081],[61,0.1119],[64,0.1156],[66,0.1156],[69,0.1104],[71,0.1044],[73,0.097],[76,0.0896],[78,0.1119],[81,0.1378],[83,0.16],[85,0.1726],[87,0.1822],[89,0.1896],[92,0.1874],[94,0.1844],[97,0.18],[100,0.177],[104,0.1711],[107,0.1637],[110,0.1578],[113,0.1563],[116,0.1563],[119,0.1578],[123,0.16],[126,0.16],[129,0.1578],[132,0.1548],[135,0.1526],[138,0.1504],[142,0.1474],[145,0.1452],[148,0.1415],[151,0.14],[154,0.1415],[158,0.1378],[161,0.1304],[164,0.1252],[167,0.1207],[170,0.1178],[173,0.1133],[177,0.1104],[180,0.1104],[183,0.1081],[186,0.1044],[189,0.1007],[192,0.0911],[194,0.0785],[197,0.0659],[200,0.0585],[204,0.0489],[207,0.0437],[210,0.0415],[213,0.0341],[216,0.0267],[219,0.0193],[222,0.0096],[224,0.0081],[227,0.0119],[231,0.017],[234,0.0193],[237,0.023],[240,0.0244],[244,0.0267],[247,0.0289],[250,0.0289],[253,0.0304],[256,0.0244],[258,0.0119],[261,0.0022],[265,-0.0007],[268,-0.003],[271,-0.0067],[274,-0.0141],[277,-0.0215],[281,-0.0274],[284,-0.0326],[287,-0.04],[290,-0.04],[294,-0.0363],[297,-0.0326],[300,-0.0304],[303,-0.0289],[307,-0.0304],[310,-0.0348],[313,-0.0378],[316,-0.04],[319,-0.0348],[323,-0.0326],[326,-0.0326],[329,-0.0326],[332,-0.0326],[336,-0.0304],[339,-0.0289],[342,-0.0348],[345,-0.0378],[348,-0.0378],[352,-0.04],[355,-0.04],[358,-0.0422],[361,-0.0437],[365,-0.0474],[368,-0.0474],[371,-0.0474],[374,-0.0474],[377,-0.0474],[381,-0.0452],[384,-0.0474],[387,-0.0496],[390,-0.0511],[394,-0.0526],[397,-0.057],[400,-0.0526],[403,-0.0496],[407,-0.0474],[410,-0.0474],[413,-0.04],[416,-0.0304],[419,-0.0289],[423,-0.0289],[426,-0.0304],[429,-0.0326],[432,-0.0348],[436,-0.04],[439,-0.04],[442,-0.0378],[445,-0.0348],[448,-0.0348]];

const gripCmd = [[0,0],[183,0],[184,1],[191,1],[192,0],[281,0],[282,1],[395,1],[396,0],[428,0],[429,1],[431,1],[432,0],[433,0],[434,1],[435,0],[436,1],[447,1],[448,0]];
const gripAch = [[0,0],[190,0],[191,0.03],[192,0],[284,0],[285,0.289],[286,0.576],[288,0.589],[290,0.602],[291,0.622],[293,0.607],[294,0.633],[296,0.641],[298,0.628],[299,0.615],[301,0.628],[302,0.622],[304,0.633],[305,0.615],[307,0.622],[308,0.549],[309,0.432],[310,0.536],[312,0.589],[313,0.576],[315,0.607],[316,0.628],[318,0.648],[320,0.659],[321,0.68],[323,0.667],[324,0.685],[326,0.674],[327,0.711],[329,0.667],[330,0.523],[331,0.497],[332,0.445],[333,0.315],[334,0.263],[335,0.419],[337,0.497],[338,0.523],[340,0.576],[341,0.536],[343,0.549],[345,0.518],[346,0.523],[348,0.602],[349,0.576],[351,0.607],[352,0.622],[354,0.615],[355,0.633],[357,0.622],[359,0.641],[360,0.628],[362,0.641],[363,0.633],[365,0.648],[367,0.654],[368,0.659],[370,0.648],[371,0.659],[373,0.654],[374,0.667],[376,0.659],[378,0.68],[379,0.706],[380,0.758],[381,0.888],[382,0.992],[383,1],[394,1],[395,0.862],[396,0.289],[397,0],[432,0],[433,0.023],[434,0],[448,0]];

const j0Ticks = [0.025,0,-0.025,-0.05,-0.075];
const j1Ticks = [0.5,0.25,0,-0.25,-0.5];
const j2Ticks = [0.06,0.04,0.02,0,-0.02,-0.04];
const j3Ticks = [-1.5,-1.75,-2.0,-2.25,-2.5];
const j4Ticks = [0.15,0.1,0.05,0,-0.05,-0.1];
const j5Ticks = [2.1,2.0,1.9,1.8];
const j6Ticks = [0.2,0.1,0.0];
const gripTicks = [1.0,0.8,0.6,0.4,0.2,0.0];
const panelLabels = ["j0","j1","j2","j3","j4","j5","j6","grip"];

// ---------------- CONFIG ----------------
const panels = [
  {cmd:j0Cmd, ach:j0Ach, ticks:j0Ticks, fmt:".3f", domain:[-0.0870,0.0417]},
  {cmd:j1Cmd, ach:j1Ach, ticks:j1Ticks, fmt:".2f", domain:[-0.690,0.606]},
  {cmd:j2Cmd, ach:j2Ach, ticks:j2Ticks, fmt:".2f", domain:[-0.0432,0.0678]},
  {cmd:j3Cmd, ach:j3Ach, ticks:j3Ticks, fmt:".2f", domain:[-2.5625,-1.3196]},
  {cmd:j4Cmd, ach:j4Ach, ticks:j4Ticks, fmt:".2f", domain:[-0.1030,0.1560]},
  {cmd:j5Cmd, ach:j5Ach, ticks:j5Ticks, fmt:".1f", domain:[1.7355,2.1030]},
  {cmd:j6Cmd, ach:j6Ach, ticks:j6Ticks, fmt:".1f", domain:[-0.0815,0.2298]},
  {cmd:gripCmd, ach:gripAch, ticks:gripTicks, fmt:".1f", domain:[-0.05,1.05]}
];

const W=1210, Hh=1408, L=85, R=1193, T0=50, PITCH=165.6, PH=139.6;
const TICK=4.9, PAD=4.9;
const BLUE="#1f77b4", ORANGE="#ff7f0e";
const FONT='"DejaVu Sans", sans-serif';

const svg = d3.select("#c");
svg.append("rect").attr("width",W).attr("height",Hh).attr("fill","#fff");
const defs = svg.append("defs");
const x = d3.scaleLinear().domain([-22.4,470.4]).range([L,R]);

panels.forEach((p,i)=>{
  const top = T0 + i*PITCH, bot = top + PH;
  const y = d3.scaleLinear().domain(p.domain).range([bot, top]);
  const g = svg.append("g");
  const cid = "clip"+i;
  defs.append("clipPath").attr("id",cid).append("rect")
    .attr("x",L).attr("y",top).attr("width",R-L).attr("height",PH);
  const plot = g.append("g").attr("clip-path",`url(#${cid})`);
  plot.selectAll("line.chunk").data(chunkSteps).join("line").attr("class","chunk")
    .attr("x1",d=>x(d)).attr("x2",d=>x(d)).attr("y1",top).attr("y2",bot)
    .attr("stroke","#808080").attr("stroke-opacity",0.3).attr("stroke-width",1.1);
  const line = d3.line().x(d=>x(d[0])).y(d=>y(d[1]));
  plot.append("path").attr("d",line(p.cmd)).attr("fill","none")
    .attr("stroke",BLUE).attr("stroke-width",2).attr("stroke-linejoin","round").attr("stroke-linecap","butt");
  plot.append("path").attr("d",line(p.ach)).attr("fill","none")
    .attr("stroke",ORANGE).attr("stroke-width",2).attr("stroke-dasharray","7.7,3.3").attr("stroke-linejoin","round");

  // y axis
  const yg = g.append("g").attr("transform",`translate(${L},0)`)
    .call(d3.axisLeft(y).tickValues(p.ticks).tickFormat(d3.format(p.fmt)).tickSize(TICK).tickPadding(PAD));
  yg.select(".domain").remove();
  yg.selectAll(".tick line").attr("stroke","#000").attr("stroke-width",1.1);
  yg.selectAll("text").attr("font-size",11.1).attr("font-family",FONT).attr("fill","#000");
  let maxW = 0;
  yg.selectAll("text").each(function(){ maxW = Math.max(maxW, this.getComputedTextLength()); });

  // x axis
  const xg = g.append("g").attr("transform",`translate(0,${bot})`)
    .call(d3.axisBottom(x).tickValues(xTicks).tickSize(TICK).tickPadding(PAD)
      .tickFormat(i===panels.length-1 ? d3.format("d") : ""));
  xg.select(".domain").remove();
  xg.selectAll(".tick line").attr("stroke","#000").attr("stroke-width",1.1);
  xg.selectAll("text").attr("font-size",11.1).attr("font-family",FONT).attr("fill","#000");

  // frame
  g.append("rect").attr("x",L).attr("y",top).attr("width",R-L).attr("height",PH)
    .attr("fill","none").attr("stroke","#000").attr("stroke-width",1.1);

  // y label
  const lx = L - TICK - PAD - maxW - 5.6 - 7.2;
  g.append("text").attr("transform",`translate(${lx},${(top+bot)/2}) rotate(-90)`)
    .attr("text-anchor","middle").attr("dominant-baseline","central")
    .attr("font-size",12.5).attr("font-family",FONT).attr("fill","#000").text(panelLabels[i]);

  if(i===0){
    const lg = g.append("g");
    lg.append("rect").attr("x",952).attr("y",55.8).attr("width",233.5).attr("height",22)
      .attr("rx",2.5).attr("fill","#fff").attr("fill-opacity",0.8).attr("stroke","#cccccc").attr("stroke-width",1);
    const ly = 66.8;
    lg.append("line").attr("x1",956.5).attr("x2",981).attr("y1",ly).attr("y2",ly)
      .attr("stroke",BLUE).attr("stroke-width",2);
    lg.append("text").attr("x",991.5).attr("y",ly+4.3).attr("font-size",11.8).attr("font-family",FONT).text(seriesNames[0]);
    lg.append("line").attr("x1",1092).attr("x2",1115.5).attr("y1",ly).attr("y2",ly)
      .attr("stroke",ORANGE).attr("stroke-width",2).attr("stroke-dasharray","7.7,3.3");
    lg.append("text").attr("x",1126).attr("y",ly+4.3).attr("font-size",11.8).attr("font-family",FONT).text(seriesNames[1]);
  }
});

svg.append("text").attr("x",605).attr("y",42).attr("text-anchor","middle")
  .attr("font-size",16.7).attr("font-family",FONT).attr("fill","#000")
  .text("PickUpBluePitcherTask run0 env1 — commanded vs achieved");
svg.append("text").attr("x",(L+R)/2).attr("y",1387).attr("text-anchor","middle")
  .attr("font-size",13.9).attr("font-family",FONT).attr("fill","#000")
  .text("sim step (vertical lines = new action chunk)");
</script></body></html>
